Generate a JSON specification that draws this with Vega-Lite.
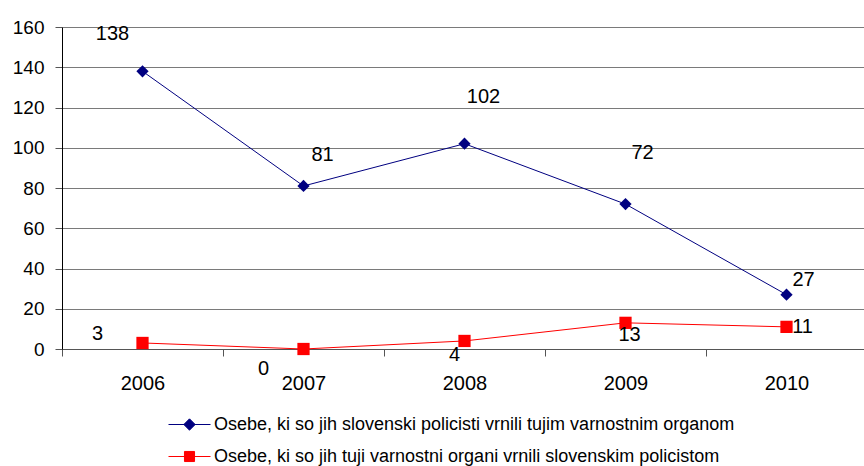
{
  "$schema": "https://vega.github.io/schema/vega-lite/v6.json",
  "width": 805,
  "height": 322,
  "autosize": {"type": "none"},
  "padding": {"left": 62, "top": 27, "right": 0, "bottom": 117},
  "background": "white",
  "config": {
    "view": {"stroke": null},
    "font": "Liberation Sans"
  },
  "data": {
    "values": [
      {"year": "2006", "series": "Osebe, ki so jih slovenski policisti vrnili tujim varnostnim organom", "value": 138},
      {"year": "2007", "series": "Osebe, ki so jih slovenski policisti vrnili tujim varnostnim organom", "value": 81},
      {"year": "2008", "series": "Osebe, ki so jih slovenski policisti vrnili tujim varnostnim organom", "value": 102},
      {"year": "2009", "series": "Osebe, ki so jih slovenski policisti vrnili tujim varnostnim organom", "value": 72},
      {"year": "2010", "series": "Osebe, ki so jih slovenski policisti vrnili tujim varnostnim organom", "value": 27},
      {"year": "2006", "series": "Osebe, ki so jih tuji varnostni organi vrnili slovenskim policistom", "value": 3},
      {"year": "2007", "series": "Osebe, ki so jih tuji varnostni organi vrnili slovenskim policistom", "value": 0},
      {"year": "2008", "series": "Osebe, ki so jih tuji varnostni organi vrnili slovenskim policistom", "value": 4},
      {"year": "2009", "series": "Osebe, ki so jih tuji varnostni organi vrnili slovenskim policistom", "value": 13},
      {"year": "2010", "series": "Osebe, ki so jih tuji varnostni organi vrnili slovenskim policistom", "value": 11}
    ]
  },
  "encoding": {
    "x": {
      "field": "year", "type": "ordinal",
      "scale": {"paddingInner": 0, "paddingOuter": 0},
      "axis": {
        "title": null, "labelAngle": 0, "tickBand": "extent", "grid": false,
        "domainColor": "#555", "tickColor": "#555", "tickSize": 7,
        "labelFontSize": 20, "labelColor": "#000", "labelPadding": 17,
        "labelFont": "Liberation Sans"
      }
    },
    "y": {
      "field": "value", "type": "quantitative",
      "scale": {"domain": [0, 160], "nice": false},
      "axis": {
        "title": null, "values": [0, 20, 40, 60, 80, 100, 120, 140, 160],
        "grid": true, "gridColor": "#7a7a7a", "gridOpacity": 1,
        "domainColor": "#000", "tickColor": "#555", "tickSize": 7,
        "labelFontSize": 19, "labelColor": "#000", "labelPadding": 11,
        "labelFont": "Liberation Sans"
      }
    },
    "color": {"field": "series", "type": "nominal",
      "scale": {"range": ["#000080", "#FF0000"]},
      "legend": {
        "title": null, "orient": "none", "legendX": 106, "legendY": 376,
        "direction": "vertical", "symbolSize": 1764, "symbolStrokeWidth": 1,
        "labelFontSize": 18, "labelColor": "#000", "labelFont": "Liberation Sans",
        "labelOffset": 3, "rowPadding": 1, "labelLimit": 700,
        "encode": {
          "symbols": {
            "update": {
              "shape": {"signal": "indexof(datum.label, 'slovenski policisti') >= 0 ? 'M-1,0L1,0M0,-0.27L0.27,0L0,0.27L-0.27,0Z' : 'M-1,0L1,0M-0.24,-0.24L0.24,-0.24L0.24,0.24L-0.24,0.24Z'"},
              "fill": {"scale": "color", "field": "value"},
              "stroke": {"scale": "color", "field": "value"},
              "fillOpacity": {"value": 1},
              "strokeWidth": {"value": 1}
            }
          }
        }
      }
    }
  },
  "layer": [
    {
      "mark": {"type": "line", "strokeWidth": 1}
    },
    {
      "mark": {"type": "point", "filled": true, "opacity": 1, "size": 150},
      "encoding": {
        "shape": {"field": "series", "type": "nominal",
          "scale": {"range": ["diamond", "square"]}, "legend": null}
      }
    },
    {"transform": [{"filter": "datum.value == 138"}], "mark": {"type": "text", "fontSize": 20, "dx": -30, "dy": -37}, "encoding": {"text": {"field": "value"}, "color": {"value": "#000"}}},
    {"transform": [{"filter": "datum.value == 81"}], "mark": {"type": "text", "fontSize": 20, "dx": 19, "dy": -31}, "encoding": {"text": {"field": "value"}, "color": {"value": "#000"}}},
    {"transform": [{"filter": "datum.value == 102"}], "mark": {"type": "text", "fontSize": 20, "dx": 19, "dy": -47}, "encoding": {"text": {"field": "value"}, "color": {"value": "#000"}}},
    {"transform": [{"filter": "datum.value == 72"}], "mark": {"type": "text", "fontSize": 20, "dx": 17, "dy": -51}, "encoding": {"text": {"field": "value"}, "color": {"value": "#000"}}},
    {"transform": [{"filter": "datum.value == 27"}], "mark": {"type": "text", "fontSize": 20, "dx": 17, "dy": -15}, "encoding": {"text": {"field": "value"}, "color": {"value": "#000"}}},
    {"transform": [{"filter": "datum.value == 3"}], "mark": {"type": "text", "fontSize": 20, "dx": -45, "dy": -9}, "encoding": {"text": {"field": "value"}, "color": {"value": "#000"}}},
    {"transform": [{"filter": "datum.value == 0"}], "mark": {"type": "text", "fontSize": 20, "dx": -40, "dy": 20}, "encoding": {"text": {"field": "value"}, "color": {"value": "#000"}}},
    {"transform": [{"filter": "datum.value == 4"}], "mark": {"type": "text", "fontSize": 20, "dx": -10, "dy": 14}, "encoding": {"text": {"field": "value"}, "color": {"value": "#000"}}},
    {"transform": [{"filter": "datum.value == 13"}], "mark": {"type": "text", "fontSize": 20, "dx": 4, "dy": 12}, "encoding": {"text": {"field": "value"}, "color": {"value": "#000"}}},
    {"transform": [{"filter": "datum.value == 11"}], "mark": {"type": "text", "fontSize": 20, "dx": 16, "dy": 0}, "encoding": {"text": {"field": "value"}, "color": {"value": "#000"}}}
  ]
}
